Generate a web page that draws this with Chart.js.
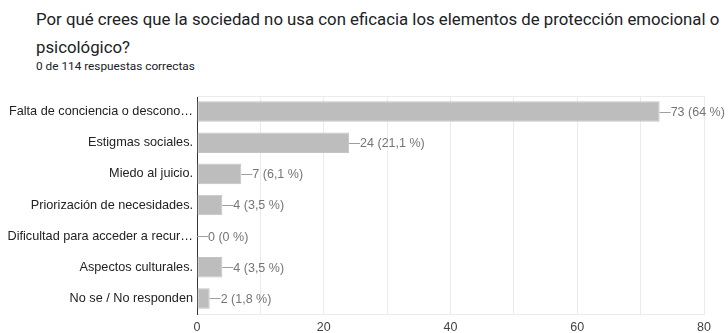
<!DOCTYPE html>
<html>
<head>
<meta charset="utf-8">
<script src="https://cdn.jsdelivr.net/npm/chart.js@4/dist/chart.umd.min.js"></script>
<style>
  body { margin: 0; background: #fff; width: 728px; height: 333px; overflow: hidden; position: relative; font-family: Roboto, Arial, sans-serif; }
  #ttl { position: absolute; left: 36px; top: 5px; width: 700px; font-size: 16.8px; line-height: 28px; color: #202124; }
  #sub { position: absolute; left: 36px; top: 59px; font-size: 11.8px; color: #202124; }
  #wrap { position: absolute; left: 0; top: 0; width: 728px; height: 333px; }
</style>
</head>
<body>
<div id="ttl">Por qué crees que la sociedad no usa con eficacia los elementos de protección emocional o psicológico?</div>
<div id="sub">0 de 114 respuestas correctas</div>
<div id="wrap"><canvas id="QTD"></canvas></div>
<script>
// respuestas
var cats = ["Falta de conciencia o descono…", "Estigmas sociales.", "Miedo al juicio.", "Priorización de necesidades.", "Dificultad para acceder a recur…", "Aspectos culturales.", "No se / No responden"];
var vals = [73, 24, 7, 4, 0, 4, 2];
var pcts = ["64 %", "21,1 %", "6,1 %", "3,5 %", "0 %", "3,5 %", "1,8 %"];
var xticks = [0, 20, 40, 60, 80];

// etiqueta con linea al final de cada barra
var valLbl = {
    id: 'valLbl',
    afterDatasetsDraw: function (chart) {
        var ctx = chart.ctx;
        var meta = chart.getDatasetMeta(0);
        var ca = chart.chartArea;
        ctx.save();
        // borde superior
        ctx.strokeStyle = '#ebebeb';
        ctx.lineWidth = 1;
        ctx.beginPath();
        ctx.moveTo(ca.left, ca.top + 0.5);
        ctx.lineTo(ca.right, ca.top + 0.5);
        ctx.stroke();
        ctx.font = '12.5px Arial, "Liberation Sans", sans-serif';
        ctx.textBaseline = 'middle';
        for (var i = 0; i < meta.data.length; i++) {
            var b = meta.data[i];
            var y = Math.round(b.y) + 0.5;
            ctx.strokeStyle = '#9e9e9e';
            ctx.beginPath();
            ctx.moveTo(b.x, y);
            ctx.lineTo(b.x + 11, y);
            ctx.stroke();
            ctx.fillStyle = '#757575';
            ctx.fillText(vals[i] + " (" + pcts[i] + ")", b.x + 11, b.y + 1);
        }
        ctx.restore();
    }
};

function chartQTD(name) {
    var ctx = document.getElementById(name).getContext('2d');
    var myChart = new Chart(ctx, {
        type: 'bar',
        data: {
            labels: cats,
            datasets: [{
                label: '',
                data: vals,
                backgroundColor: '#bdbdbd',
                borderColor: '#c4c4c4',
                borderWidth: 1,
                borderSkipped: false,
                barPercentage: 0.66,
                categoryPercentage: 1
            }]
        },
        options: {
            indexAxis: 'y',
            responsive: true,
            maintainAspectRatio: false,
            animation: false,
            layout: { padding: { top: 96, right: 24, bottom: 0, left: 0 } },
            plugins: {
                legend: { display: false },
                tooltip: { enabled: false }
            },
            scales: {
                x: {
                    min: 0,
                    max: 80,
                    afterBuildTicks: function (s) {
                        s.ticks = [0, 10, 20, 30, 40, 50, 60, 70, 80].map(function (v) { return { value: v }; });
                    },
                    afterFit: function (s) { s.height = 19; },
                    grid: { color: '#ebebeb', drawTicks: false },
                    border: { color: '#ebebeb' },
                    ticks: {
                        padding: 6,
                        color: '#444',
                        font: { family: 'Arial, "Liberation Sans", sans-serif', size: 12.5 },
                        autoSkip: false,
                        maxRotation: 0,
                        callback: function (v) { return xticks.indexOf(v) > -1 ? v : ''; }
                    }
                },
                y: {
                    afterFit: function (s) { s.width = 197; },
                    grid: { display: false, drawTicks: false },
                    border: { color: '#333', width: 1 },
                    ticks: {
                        padding: 4,
                        color: '#222',
                        font: { family: 'Arial, "Liberation Sans", sans-serif', size: 12.7 },
                        autoSkip: false
                    }
                }
            }
        },
        plugins: [valLbl]
    });
}

chartQTD("QTD");
</script>
</body>
</html>
